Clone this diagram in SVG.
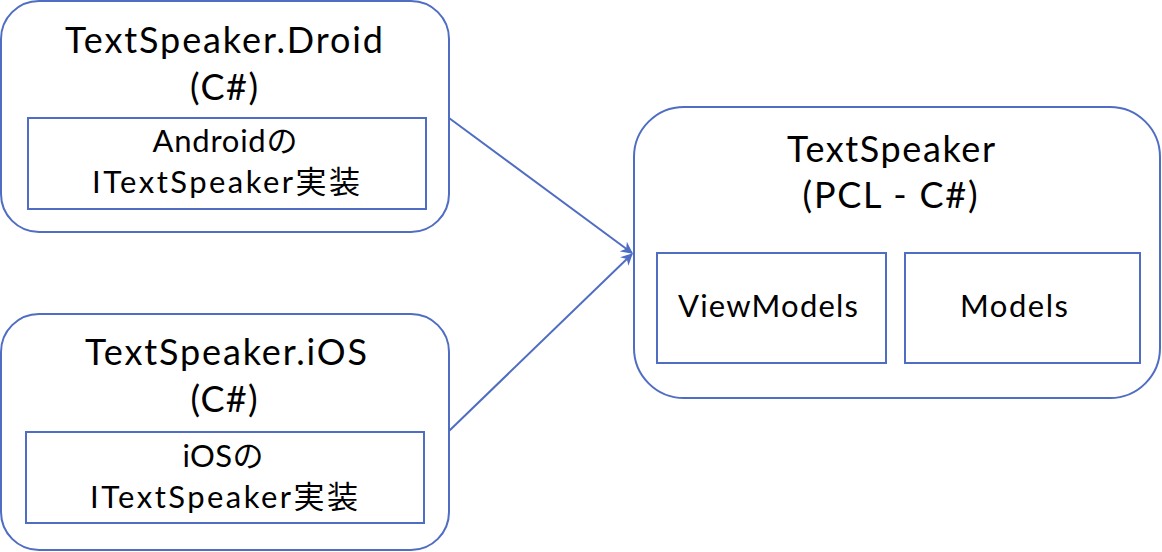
<svg xmlns="http://www.w3.org/2000/svg" width="1162" height="552" viewBox="0 0 1162 552">
<defs>
<style>
.outer{fill:#fff;stroke:#4F6DC2;stroke-width:2}
.inner{fill:#fff;stroke:#4F6DC2;stroke-width:2}
.t{font-family:Lato,"Noto Sans CJK JP",sans-serif;fill:#000;text-anchor:middle}
.big{font-size:36px}
.mid{font-size:31px}
.conn{stroke:#4F6DC2;stroke-width:2;fill:none}
</style>
<marker id="ah" viewBox="0 0 10 10" refX="9" refY="5" markerWidth="6" markerHeight="6" orient="auto" markerUnits="strokeWidth">
<path d="M0,0 L10,5 L0,10 L3,5 z" fill="#4F6DC2"/>
</marker>
</defs>
<g id="droid">
<rect class="outer" x="1" y="1" width="448" height="231" rx="38"/>
<text class="t big" x="224" y="53" textLength="318">TextSpeaker.Droid</text>
<text class="t big" x="224" y="100" textLength="68">(C#)</text>
<rect class="inner" x="28" y="118" width="398" height="91"/>
<text class="t mid" x="225" y="152" textLength="145">Androidの</text>
<text class="t mid" x="226" y="193" textLength="268">ITextSpeaker実装</text>
</g>
<g id="ios">
<rect class="outer" x="1" y="314" width="448" height="236" rx="38"/>
<text class="t big" x="226" y="365" textLength="282">TextSpeaker.iOS</text>
<text class="t big" x="224" y="412" textLength="67">(C#)</text>
<rect class="inner" x="26" y="432" width="398" height="91"/>
<text class="t mid" x="223" y="467" textLength="81">iOSの</text>
<text class="t mid" x="224" y="508" textLength="268">ITextSpeaker実装</text>
</g>
<g id="pcl">
<rect class="outer" x="634" y="107" width="526" height="291" rx="50"/>
<text class="t big" x="891" y="162" textLength="208">TextSpeaker</text>
<text class="t big" x="890" y="208" textLength="175">(PCL - C#)</text>
<rect class="inner" x="657" y="253" width="229" height="110"/>
<text class="t mid" x="768" y="317" textLength="180">ViewModels</text>
<rect class="inner" x="905" y="253" width="235" height="110"/>
<text class="t mid" x="1014" y="317" textLength="108">Models</text>
</g>
<g id="connectors">
<line class="conn" x1="449" y1="118" x2="632" y2="253" marker-end="url(#ah)"/>
<line class="conn" x1="449" y1="431" x2="632" y2="254" marker-end="url(#ah)"/>
</g>
</svg>
